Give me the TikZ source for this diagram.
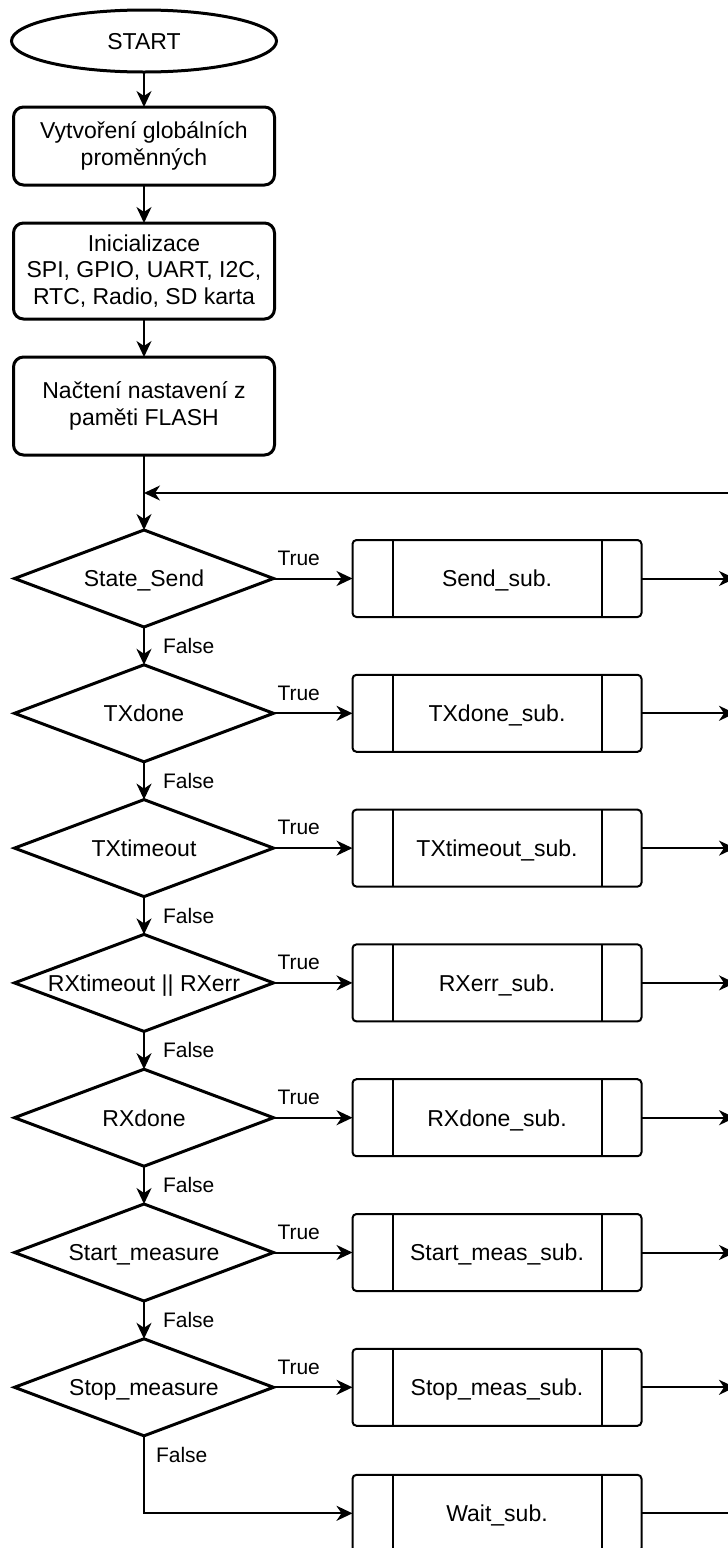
\documentclass[tikz,border=0pt]{standalone}
\usepackage{fontspec}
\setmainfont{Liberation Sans}
\usetikzlibrary{positioning,shapes.geometric,arrows.meta}

\begin{document}
\begin{tikzpicture}[x=1pt, y=-1pt, node distance = 37.8pt,
  >={Stealth[length=16pt, width=15pt, inset=5pt]},
  every node/.style = {font = \fontsize{23}{26.5}\selectfont, align = center, inner sep = 0pt, outer sep = 0pt},
  terminal/.style = {ellipse, draw, line width=3pt, minimum width=265pt, minimum height=62pt, text depth=0pt},
  proc/.style = {rectangle, draw, line width=3pt, rounded corners=10pt, minimum width=261pt},
  cond/.style = {diamond, draw, line width=3pt, minimum width=259pt, minimum height=97pt, shape aspect=2.67, text depth=0pt},
  subproc/.style = {rectangle, draw, line width=2pt, rounded corners=4pt, text depth=0pt,
    minimum width=289pt, minimum height=77pt,
    path picture={\draw[line width=2pt]
      ([xshift=40pt]path picture bounding box.north west) -- ([xshift=40pt]path picture bounding box.south west)
      ([xshift=-40pt]path picture bounding box.north east) -- ([xshift=-40pt]path picture bounding box.south east);}},
  yes/.style = {pos=0, anchor=south west, xshift=4pt, yshift=13pt, font=\fontsize{21}{24}\selectfont},
  no/.style = {anchor=west, xshift=19pt, font=\fontsize{21}{24}\selectfont},
  line width=2pt]
  \useasboundingbox (0,0) rectangle (728,1548);

  \node[terminal] (start) at (144,41) {START};
  \node[proc, minimum height=78pt] (globals) [below = 35pt of start] {Vytvoření globálních\\proměnných};
  \node[proc, minimum height=96pt] (init) [below = 38pt of globals] {Inicializace\\SPI, GPIO, UART, I2C,\\RTC, Radio, SD karta};
  \node[proc, minimum height=98pt] (flash) [below = 38pt of init] {Načtení nastavení z\\paměti FLASH};

  \node[cond] (send)      [below = 75pt of flash]  {State\_Send};
  \node[cond] (txdone)    [below = of send]        {TXdone};
  \node[cond] (txtimeout) [below = of txdone]      {TXtimeout};
  \node[cond] (rxerr)     [below = of txtimeout]   {RXtimeout || RXerr};
  \node[cond] (rxdone)    [below = of rxerr]       {RXdone};
  \node[cond] (startmeas) [below = of rxdone]      {Start\_measure};
  \node[cond] (stopmeas)  [below = of startmeas]   {Stop\_measure};

  \node[subproc] (sendsub)      [right = 79pt of send]      {Send\_sub.};
  \node[subproc] (txdonesub)    [right = 79pt of txdone]    {TXdone\_sub.};
  \node[subproc] (txtimeoutsub) [right = 79pt of txtimeout] {TXtimeout\_sub.};
  \node[subproc] (rxerrsub)     [right = 79pt of rxerr]     {RXerr\_sub.};
  \node[subproc] (rxdonesub)    [right = 79pt of rxdone]    {RXdone\_sub.};
  \node[subproc] (startmeassub) [right = 79pt of startmeas] {Start\_meas\_sub.};
  \node[subproc] (stopmeassub)  [right = 79pt of stopmeas]  {Stop\_meas\_sub.};
  \node[subproc] (waitsub)      [below = 49pt of stopmeassub] {Wait\_sub.};

  % loop back, the bus lies just past the right edge
  \coordinate (loop) at (144,493);
  \coordinate (bustop) at (735,493);

  \draw[->] (start) -- (globals);
  \draw[->] (globals) -- (init);
  \draw[->] (init) -- (flash);
  \draw[->] (flash) -- (send);
  \draw[->] (send) -- node[no] {False} (txdone);
  \draw[->] (txdone) -- node[no] {False} (txtimeout);
  \draw[->] (txtimeout) -- node[no] {False} (rxerr);
  \draw[->] (rxerr) -- node[no] {False} (rxdone);
  \draw[->] (rxdone) -- node[no] {False} (startmeas);
  \draw[->] (startmeas) -- node[no] {False} (stopmeas);
  \draw[->] (stopmeas) |- node[pos=0, anchor=north west, xshift=12pt, yshift=-11.7pt, font=\fontsize{21}{24}\selectfont] {False} (waitsub);

  \draw[->] (send) -- node[yes] {True} (sendsub);
  \draw[->] (txdone) -- node[yes] {True} (txdonesub);
  \draw[->] (txtimeout) -- node[yes] {True} (txtimeoutsub);
  \draw[->] (rxerr) -- node[yes] {True} (rxerrsub);
  \draw[->] (rxdone) -- node[yes] {True} (rxdonesub);
  \draw[->] (startmeas) -- node[yes] {True} (startmeassub);
  \draw[->] (stopmeas) -- node[yes] {True} (stopmeassub);

  \draw[->] (sendsub) -- (sendsub -| bustop);
  \draw[->] (txdonesub) -- (txdonesub -| bustop);
  \draw[->] (txtimeoutsub) -- (txtimeoutsub -| bustop);
  \draw[->] (rxerrsub) -- (rxerrsub -| bustop);
  \draw[->] (rxdonesub) -- (rxdonesub -| bustop);
  \draw[->] (startmeassub) -- (startmeassub -| bustop);
  \draw[->] (stopmeassub) -- (stopmeassub -| bustop);
  \draw[->] (waitsub) -| (bustop) -- (loop);
\end{tikzpicture}
\end{document}
